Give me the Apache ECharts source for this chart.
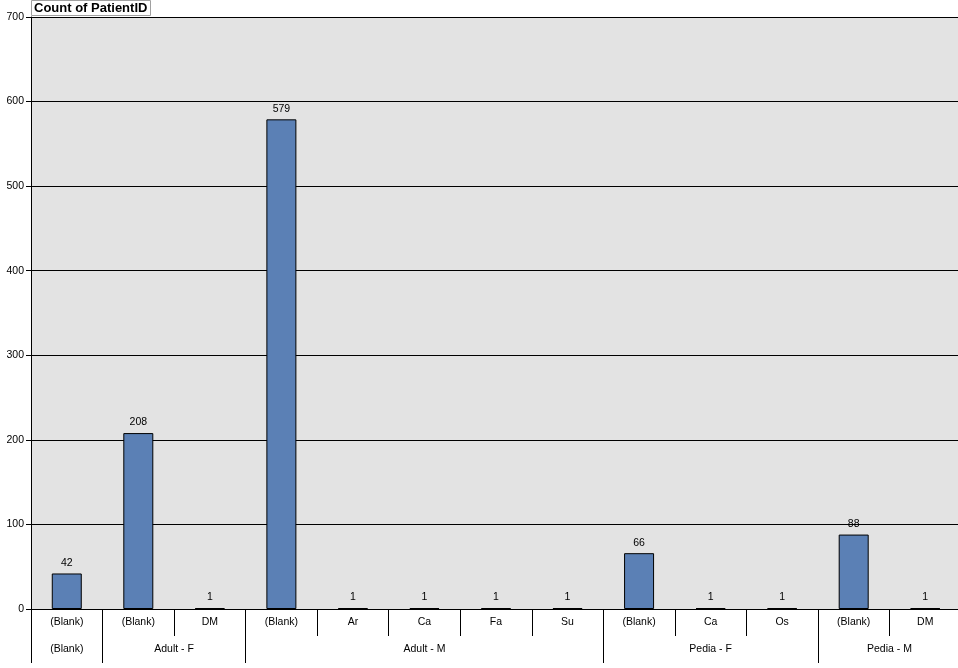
<!DOCTYPE html>
<html>
<head>
<meta charset="utf-8">
<script src="https://cdn.jsdelivr.net/npm/echarts@6/dist/echarts.min.js"></script>
<style>html,body{margin:0;padding:0;background:#fff}#c{width:958px;height:668px}</style>
</head>
<body>
<div id="c"></div>
<script>
const categories = ['(Blank)', '(Blank)', 'DM', '(Blank)', 'Ar', 'Ca', 'Fa', 'Su', '(Blank)', 'Ca', 'Os', '(Blank)', 'DM'];
const groups = ['(Blank)', 'Adult - F', 'Adult - M', 'Pedia - F', 'Pedia - M'];
const groupSizes = [1, 2, 5, 3, 2];
const values = [42, 208, 1, 579, 1, 1, 1, 1, 66, 1, 1, 88, 1];
const yTicks = [0, 100, 200, 300, 400, 500, 600, 700];

// Build a half-step axis (2 points per category + 1) for the group level
const n = categories.length;
const halfLabels = new Array(2 * n + 1).fill('');
const tickIdx = new Set([0]);
const labelIdx = new Set();
let start = 0;
groups.forEach((g, i) => {
  const end = start + groupSizes[i];
  const mid = start + end; // in half units
  halfLabels[mid] = g;
  labelIdx.add(mid);
  tickIdx.add(2 * end);
  start = end;
});

const font = 'Liberation Sans';
const fs = 10.5;
const chart = echarts.init(document.getElementById('c'), null, {renderer: 'canvas'});
chart.setOption({
  animation: false,
  backgroundColor: '#ffffff',
  title: {
    text: 'Count of PatientID',
    left: 31, top: 0,
    padding: [2, 3, 1, 3],
    backgroundColor: '#ffffff',
    borderColor: '#a0a0a0',
    borderWidth: 1,
    textStyle: {fontFamily: font, fontSize: 13, fontWeight: 'bold', color: '#000'}
  },
  grid: {left: 31, right: -3, top: 17, bottom: 59, outerBoundsMode: 'none', containLabel: false,
         show: true, backgroundColor: '#e3e3e3', borderWidth: 0},
  xAxis: [
    {
      type: 'category', data: categories, position: 'bottom',
      axisLine: {show: true, lineStyle: {color: '#000', width: 1}},
      axisTick: {show: true, length: 27, lineStyle: {color: '#000'}},
      axisLabel: {interval: 0, margin: 8, fontFamily: font, fontSize: fs, color: '#000'}
    },
    {
      type: 'category', data: halfLabels, position: 'bottom', boundaryGap: false,
      axisLine: {show: false},
      axisTick: {show: true, length: 54, interval: (i) => tickIdx.has(i), lineStyle: {color: '#000'}},
      axisLabel: {interval: (i) => labelIdx.has(i), margin: 35, fontFamily: font, fontSize: fs, color: '#000'}
    }
  ],
  yAxis: {
    type: 'value', min: yTicks[0], max: yTicks[yTicks.length - 1], interval: 100,
    axisLine: {show: true, lineStyle: {color: '#000'}},
    axisTick: {show: true, length: 5, lineStyle: {color: '#000'}},
    axisLabel: {margin: 7, fontFamily: font, fontSize: fs, color: '#000'},
    splitLine: {show: true, lineStyle: {color: '#000', width: 1}}
  },
  series: [{
    type: 'bar', xAxisIndex: 0, data: values, barWidth: 30,
    itemStyle: {color: '#5b80b5', borderColor: '#000', borderWidth: 1},
    label: {show: true, position: 'top', distance: 5, fontFamily: font, fontSize: fs, color: '#000'}
  }]
});
</script>
</body>
</html>
